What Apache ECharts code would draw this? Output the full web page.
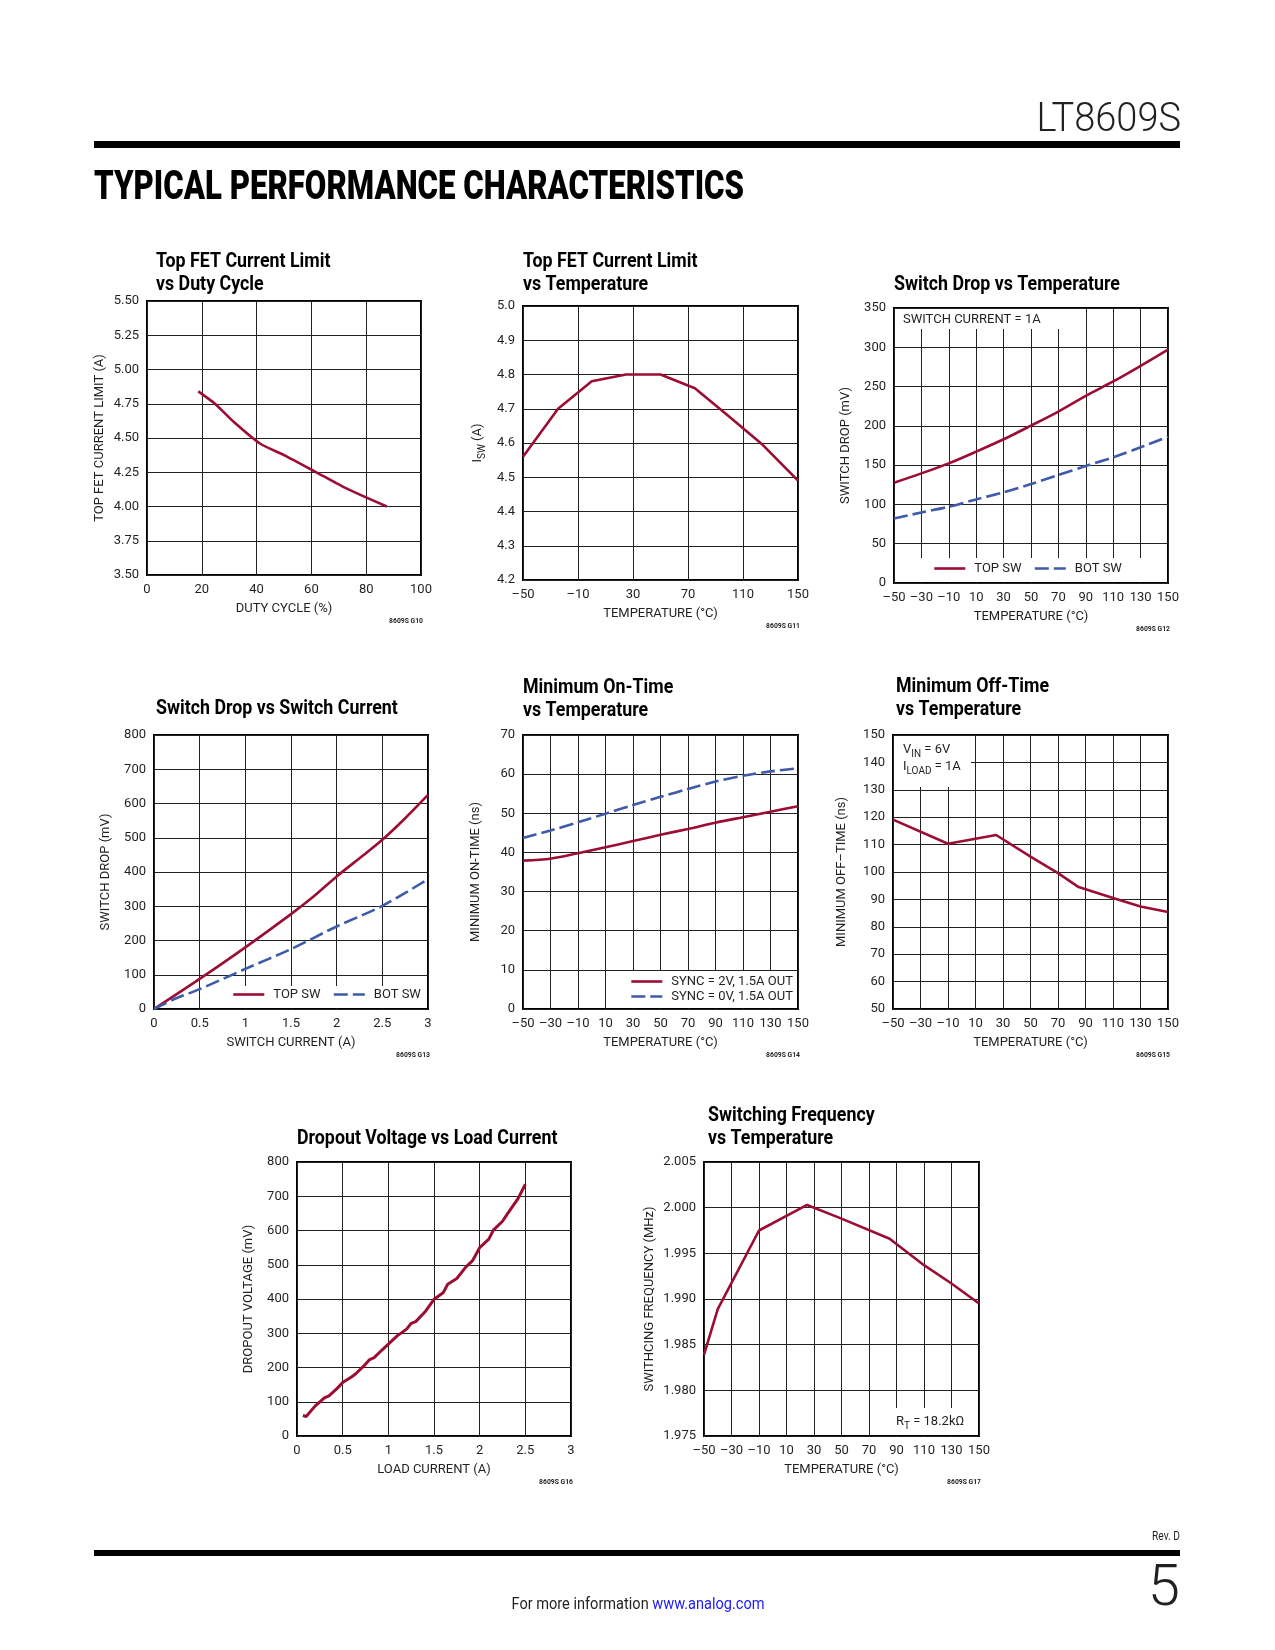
<!DOCTYPE html>
<html>
<head>
<meta charset="utf-8">
<script src="https://cdn.jsdelivr.net/npm/echarts@6/dist/echarts.min.js"></script>
<style>
html,body{margin:0;padding:0;background:#fff;}
#main{width:1275px;height:1650px;}
</style>
</head>
<body>
<div id="main"></div>
<script>
// ---------------- DATA ----------------
// Chart 1: Top FET Current Limit vs Duty Cycle
const c1Title = ['Top FET Current Limit', 'vs Duty Cycle'];
const c1Duty = [18.7, 24.8, 31.5, 41.2, 50, 61.3, 72.9, 87.5];
const c1Limit = [4.84, 4.75, 4.62, 4.46, 4.375, 4.255, 4.13, 4.00];

// Chart 2: Top FET Current Limit vs Temperature
const c2Title = ['Top FET Current Limit', 'vs Temperature'];
const c2Temp = [-50, -24.5, 0, 25, 50, 75, 99, 124.5, 150];
const c2Isw = [4.56, 4.70, 4.78, 4.80, 4.80, 4.76, 4.68, 4.594, 4.49];

// Chart 3: Switch Drop vs Temperature
const c3Title = ['Switch Drop vs Temperature'];
const c3Temp = [-50, -30, -10, 10, 30, 50, 70, 90, 110, 130, 150];
const c3Top = [127.6, 139.5, 152.3, 167.2, 182.9, 200.3, 218.2, 238.2, 256.5, 276.4, 296.9];
const c3Bot = [82.1, 89.8, 97.0, 106.4, 115.3, 125.9, 137.4, 148.9, 159.9, 172.7, 186.3];

// Chart 4: Switch Drop vs Switch Current
const c4Title = ['Switch Drop vs Switch Current'];
const c4TopCurrent = [0, 0.5, 1, 1.5, 1.75, 2, 2.25, 2.5, 2.75, 3];
const c4TopDrop = [0, 88, 180, 277, 329, 387, 440, 494, 557, 625];
const c4BotCurrent = [0, 0.25, 0.5, 1, 1.5, 2, 2.5, 3];
const c4BotDrop = [0, 32, 58, 117, 175, 241, 301, 379];

// Chart 5: Minimum On-Time vs Temperature
const c5Title = ['Minimum On-Time', 'vs Temperature'];
const c5Temp = [-50, -30, -10, 10, 30, 50, 70, 90, 110, 130, 150];
const c5Sync2V = [37.9, 38.4, 39.8, 41.3, 42.9, 44.5, 46.0, 47.6, 49.0, 50.4, 51.8];
const c5Sync0V = [43.7, 45.6, 47.7, 49.9, 52.1, 54.2, 56.2, 58.1, 59.6, 60.7, 61.5];

// Chart 6: Minimum Off-Time vs Temperature
const c6Title = ['Minimum Off-Time', 'vs Temperature'];
const c6Temp = [-50, -10, 25, 50, 70, 85, 110, 130, 150];
const c6Off = [119.1, 110.3, 113.5, 105.6, 99.6, 94.5, 90.5, 87.4, 85.4];

// Chart 7: Dropout Voltage vs Load Current
const c7Title = ['Dropout Voltage vs Load Current'];
const c7Load = [0.065, 0.1, 0.2, 0.3, 0.35, 0.44, 0.5, 0.6, 0.64, 0.73, 0.79, 0.845, 0.93, 1.0, 1.1, 1.2, 1.25, 1.3, 1.4, 1.5, 1.6, 1.65, 1.75, 1.85, 1.92, 1.97, 2.0, 2.1, 2.15, 2.25, 2.3, 2.37, 2.42, 2.5];
const c7Drop = [60, 57, 88, 111, 117, 139, 156, 173, 181, 204, 222, 229, 251, 268, 293, 312, 329, 334, 362, 399, 418, 443, 460, 494, 511, 535, 550, 575, 601, 627, 647, 674, 693, 735];

// Chart 8: Switching Frequency vs Temperature
const c8Title = ['Switching Frequency', 'vs Temperature'];
const c8Temp = [-50, -40, -10, 25, 50, 85, 110, 130, 150];
const c8Freq = [1.9839, 1.9889, 1.9975, 2.0003, 1.9988, 1.9966, 1.9937, 1.9917, 1.9895];

// ---------------- STYLE ----------------
const FONT = "Roboto,'Liberation Sans',sans-serif";
const INK = '#231f20';
const RED = '#9b0d33';
const BLUE = '#3f5aa8';
const DASH = [14, 5];
const FS = 13;
const TITLE_SCALE = 0.89;
const dash = v => String(v).replace('-', '\u2013');

const charts = [
  { title: c1Title, tx: 156, ty: 262, grid: [147, 301, 274, 274],
    x: { min: 0, max: 100, interval: 20 }, y: { min: 3.5, max: 5.5, interval: 0.25, dec: 2 },
    xName: 'DUTY CYCLE (%)', yName: 'TOP FET CURRENT LIMIT (A)', yGap: 41, code: '8609S G10',
    series: [{ name: 's1', x: c1Duty, y: c1Limit, color: RED, smooth: 0.2 }] },
  { title: c2Title, tx: 523, ty: 262, grid: [523, 306, 275, 274],
    x: { min: -50, max: 150, interval: 40 }, y: { min: 4.2, max: 5.0, interval: 0.1, dec: 1 },
    xName: 'TEMPERATURE (\u00b0C)', yName: '{n|I}{s|SW}{n| (A)}', yGap: 36, code: '8609S G11',
    series: [{ name: 's2', x: c2Temp, y: c2Isw, color: RED }] },
  { title: c3Title, tx: 894, ty: 285, grid: [894, 308, 274, 275],
    x: { min: -50, max: 150, interval: 20 }, y: { min: 0, max: 350, interval: 50, dec: 0 },
    xName: 'TEMPERATURE (\u00b0C)', yName: 'SWITCH DROP (mV)', yGap: 42, code: '8609S G12',
    boxes: [[894, 308, 179, 22], [894, 557, 274, 26]],
    notes: [{ text: 'SWITCH CURRENT = 1A', x: 903, y: 320 }],
    legend: { left: 933, top: 562, orient: 'horizontal', data: ['TOP SW', 'BOT SW'] },
    series: [{ name: 'TOP SW', x: c3Temp, y: c3Top, color: RED, smooth: 0.3 },
             { name: 'BOT SW', x: c3Temp, y: c3Bot, color: BLUE, smooth: 0.3, dashed: true }] },
  { title: c4Title, tx: 156, ty: 709, grid: [154, 735, 274, 274],
    x: { min: 0, max: 3, interval: 0.5 }, y: { min: 0, max: 800, interval: 100, dec: 0 },
    xName: 'SWITCH CURRENT (A)', yName: 'SWITCH DROP (mV)', yGap: 42, code: '8609S G13',
    boxes: [[227, 985, 201, 24]],
    legend: { left: 232, top: 988, orient: 'horizontal', data: ['TOP SW', 'BOT SW'] },
    series: [{ name: 'TOP SW', x: c4TopCurrent, y: c4TopDrop, color: RED, smooth: 0.3 },
             { name: 'BOT SW', x: c4BotCurrent, y: c4BotDrop, color: BLUE, smooth: 0.3, dashed: true }] },
  { title: c5Title, tx: 523, ty: 688, grid: [523, 735, 275, 274],
    x: { min: -50, max: 150, interval: 20 }, y: { min: 0, max: 70, interval: 10, dec: 0 },
    xName: 'TEMPERATURE (\u00b0C)', yName: 'MINIMUM ON-TIME (ns)', yGap: 41, code: '8609S G14',
    boxes: [[623, 970, 175, 39]],
    legend: { left: 630, top: 975, orient: 'vertical', data: ['SYNC = 2V, 1.5A OUT', 'SYNC = 0V, 1.5A OUT'] },
    series: [{ name: 'SYNC = 2V, 1.5A OUT', x: c5Temp, y: c5Sync2V, color: RED, smooth: 0.3 },
             { name: 'SYNC = 0V, 1.5A OUT', x: c5Temp, y: c5Sync0V, color: BLUE, smooth: 0.3, dashed: true }] },
  { title: c6Title, tx: 896, ty: 687, grid: [893, 735, 275, 274],
    x: { min: -50, max: 150, interval: 20 }, y: { min: 50, max: 150, interval: 10, dec: 0 },
    xName: 'TEMPERATURE (\u00b0C)', yName: 'MINIMUM OFF\u2013TIME (ns)', yGap: 45, code: '8609S G15',
    boxes: [[893, 735, 79, 53]],
    notes: [{ text: '{n|V}{s|IN}{n| = 6V}', x: 903, y: 750 }, { text: '{n|I}{s|LOAD}{n| = 1A}', x: 903, y: 767 }],
    series: [{ name: 's6', x: c6Temp, y: c6Off, color: RED }] },
  { title: c7Title, tx: 297, ty: 1139, grid: [297, 1162, 274, 274],
    x: { min: 0, max: 3, interval: 0.5 }, y: { min: 0, max: 800, interval: 100, dec: 0 },
    xName: 'LOAD CURRENT (A)', yName: 'DROPOUT VOLTAGE (mV)', yGap: 42, code: '8609S G16',
    series: [{ name: 's7', x: c7Load, y: c7Drop, color: RED, width: 3 }] },
  { title: c8Title, tx: 708, ty: 1116, grid: [704, 1162, 275, 274],
    x: { min: -50, max: 150, interval: 20 }, y: { min: 1.975, max: 2.005, interval: 0.005, dec: 3 },
    xName: 'TEMPERATURE (\u00b0C)', yName: 'SWITHCING FREQUENCY (MHz)', yGap: 48, code: '8609S G17',
    boxes: [[892, 1407, 87, 29]],
    notes: [{ text: '{n|R}{s|T}{n| = 18.2k\u03a9}', x: 896, y: 1422 }],
    series: [{ name: 's8', x: c8Temp, y: c8Freq, color: RED }] }
];

// rich styles: axis-name version uses "color", graphic version uses "fill"
const richAxis = {
  n: { fontFamily: FONT, fontSize: FS, color: INK },
  s: { fontFamily: FONT, fontSize: 10, color: INK, padding: [8, 0, 0, 0] }
};
const richGfx = {
  n: { fontFamily: FONT, fontSize: FS, fill: INK },
  s: { fontFamily: FONT, fontSize: 10, fill: INK, padding: [8, 0, 0, 0] }
};

const grids = [], xAxes = [], yAxes = [], series = [], legends = [], graphics = [];

charts.forEach((c, i) => {
  const [gl, gt, gw, gh] = c.grid;
  grids.push({ left: gl, top: gt, width: gw, height: gh, show: true, borderColor: '#000', borderWidth: 2, containLabel: false });
  xAxes.push({
    type: 'value', gridIndex: i, min: c.x.min, max: c.x.max, interval: c.x.interval,
    axisLine: { show: false }, axisTick: { show: false },
    splitLine: { show: true, lineStyle: { color: '#222', width: 1 } },
    axisLabel: { margin: 8, fontFamily: FONT, fontSize: FS, color: INK, formatter: v => dash(v) },
    name: c.xName, nameLocation: 'middle', nameGap: 27,
    nameTextStyle: { fontFamily: FONT, fontSize: FS, color: INK }
  });
  yAxes.push({
    type: 'value', gridIndex: i, min: c.y.min, max: c.y.max, interval: c.y.interval,
    axisLine: { show: false }, axisTick: { show: false },
    splitLine: { show: true, lineStyle: { color: '#222', width: 1 } },
    axisLabel: { margin: 8, fontFamily: FONT, fontSize: FS, color: INK, formatter: v => dash(v.toFixed(c.y.dec)) },
    name: c.yName, nameLocation: 'middle', nameGap: c.yGap,
    nameTextStyle: { fontFamily: FONT, fontSize: FS, color: INK, rich: richAxis }
  });
  c.series.forEach(s => {
    series.push({
      type: 'line', name: s.name, xAxisIndex: i, yAxisIndex: i,
      data: s.x.map((xv, k) => [xv, s.y[k]]),
      showSymbol: false, symbol: 'none', smooth: s.smooth || false,
      lineStyle: { color: s.color, width: s.width || 2.6, type: s.dashed ? DASH : 'solid' },
      itemStyle: { color: s.color }, z: 2, silent: true, animation: false
    });
  });
  if (c.legend) {
    legends.push({
      left: c.legend.left, top: c.legend.top, orient: c.legend.orient, data: c.legend.data,
      itemWidth: 31, itemHeight: 14, itemGap: c.legend.orient === 'vertical' ? 2 : 12, padding: 0,
      itemStyle: { opacity: 0 },
      lineStyle: { width: 2.6 },
      textStyle: { fontFamily: FONT, fontSize: FS, color: INK, padding: [0, 0, 0, 4] },
      selectedMode: false, z: 6
    });
  }
  c.title.forEach((t, k) => {
    graphics.push({ type: 'text', z: 6, x: c.tx, y: c.ty + k * 23, scaleX: TITLE_SCALE,
      style: { text: t, x: 0, y: 0, fontFamily: FONT, fontSize: 20, fontWeight: 'bold', fill: '#000', verticalAlign: 'middle', align: 'left' } });
  });
  (c.boxes || []).forEach(b => {
    graphics.push({ type: 'rect', z: 3, shape: { x: b[0] + 1, y: b[1] + 1, width: b[2] - 2, height: b[3] - 2 }, style: { fill: '#fff' } });
  });
  (c.notes || []).forEach(n => {
    graphics.push({ type: 'text', z: 6, style: { text: n.text, x: n.x, y: n.y, fontFamily: FONT, fontSize: FS, fill: INK, verticalAlign: 'middle', align: 'left', rich: richGfx } });
  });
  graphics.push({ type: 'text', z: 6, x: gl + gw + 2, y: gt + gh + 46, scaleX: 0.85,
    style: { text: c.code, x: 0, y: 0, fontFamily: FONT, fontSize: 8, fontWeight: 'bold', fill: INK, verticalAlign: 'middle', align: 'right' } });
});

// page furniture
graphics.push(
  { type: 'text', z: 6, x: 1181, y: 121, scaleX: 0.95,
    style: { text: 'LT8609S', x: 0, y: 0, fontFamily: FONT, fontSize: 40, fontWeight: 300, fill: INK, align: 'right', verticalAlign: 'middle' } },
  { type: 'rect', z: 6, shape: { x: 94, y: 141, width: 1086, height: 7 }, style: { fill: '#000' } },
  { type: 'text', z: 6, x: 94, y: 189, scaleX: 0.78,
    style: { text: 'TYPICAL PERFORMANCE CHARACTERISTICS', x: 0, y: 0, fontFamily: FONT, fontSize: 40, fontWeight: 900, fill: '#000', align: 'left', verticalAlign: 'middle' } },
  { type: 'text', z: 6, x: 1180, y: 1537, scaleX: 0.85,
    style: { text: 'Rev. D', x: 0, y: 0, fontFamily: FONT, fontSize: 12, fill: INK, align: 'right', verticalAlign: 'middle' } },
  { type: 'rect', z: 6, shape: { x: 94, y: 1550, width: 1086, height: 6 }, style: { fill: '#000' } },
  { type: 'text', z: 6, x: 1180, y: 1590, scaleX: 1.0,
    style: { text: '5', x: 0, y: 0, fontFamily: FONT, fontSize: 58, fontWeight: 300, fill: INK, align: 'right', verticalAlign: 'middle' } },
  { type: 'text', z: 6, x: 638, y: 1605, scaleX: 0.91,
    style: { text: '{a|For more information }{b|www.analog.com}', x: 0, y: 0, align: 'center', verticalAlign: 'middle',
      rich: { a: { fontFamily: FONT, fontSize: 16, fill: INK }, b: { fontFamily: FONT, fontSize: 16, fill: '#1a1aff' } } } }
);

const chart = echarts.init(document.getElementById('main'), null, { renderer: 'canvas' });
chart.setOption({
  animation: false,
  backgroundColor: '#fff',
  grid: grids, xAxis: xAxes, yAxis: yAxes, series: series, legend: legends, graphic: graphics
});
</script>
</body>
</html>
